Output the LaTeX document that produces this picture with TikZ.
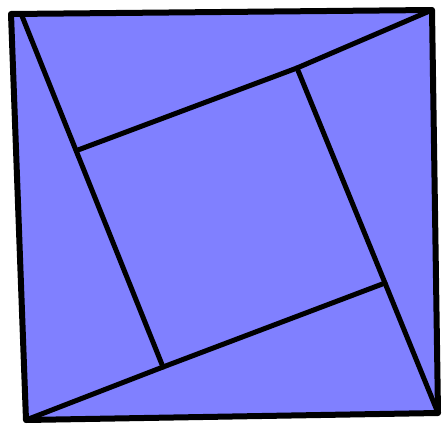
\documentclass[tikz,border=0pt]{standalone}
\begin{document}
\begin{tikzpicture}[x=1pt,y=-1pt,
  edge/.style={line width=5pt,line join=round,line cap=round}]
\definecolor{sqblue}{HTML}{8080FF}
\useasboundingbox (0,0) rectangle (446,428);
\coordinate (TL) at (11,14);
\coordinate (TR) at (432,10);
\coordinate (BR) at (438,413);
\coordinate (BL) at (26,420);
\coordinate (S) at (22,16);
\coordinate (A) at (78,150);
\coordinate (B) at (297,68);
\coordinate (C) at (385,283);
\coordinate (D) at (163,367);
\fill[sqblue] (TL) -- (TR) -- (BR) -- (BL) -- cycle;
\draw[edge] (S) -- (D);
\draw[edge] (A) -- (B) -- (TR);
\draw[edge] (B) -- (C) -- (BR);
\draw[edge] (BL) -- (D) -- (C);
\draw[line width=6pt,line join=round] (TL) -- (TR) -- (BR) -- (BL) -- cycle;
\end{tikzpicture}
\end{document}
